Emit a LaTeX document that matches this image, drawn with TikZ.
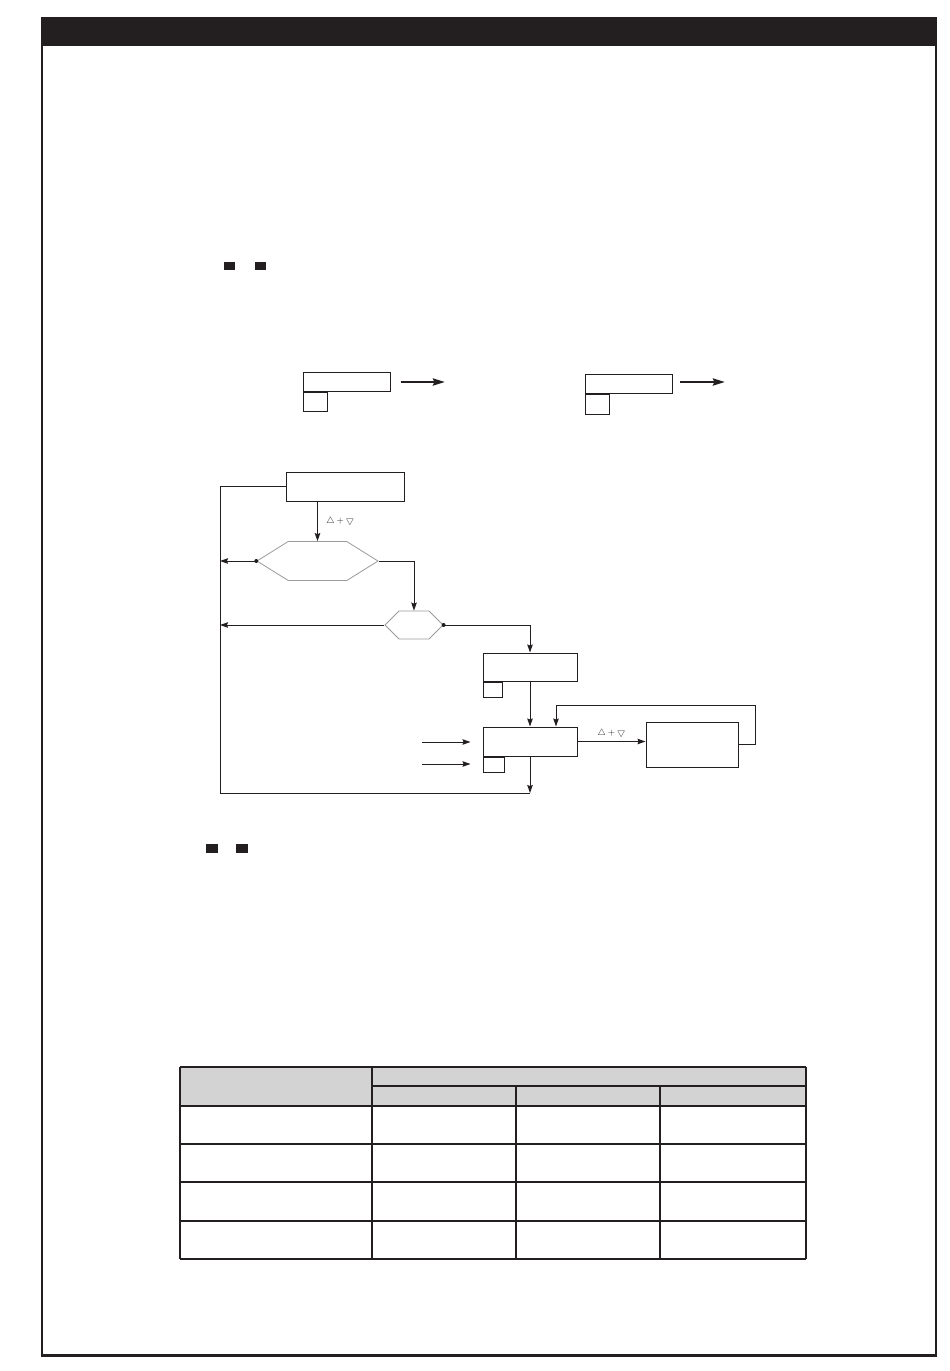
\documentclass[tikz,border=0pt]{standalone}
\usepackage{amsmath}
\usepackage{amssymb}
\usepackage{tikz}
\usetikzlibrary{shapes.symbols,positioning,arrows.meta}
\definecolor{ink}{HTML}{231F20}
\definecolor{headgray}{HTML}{D3D3D3}
\definecolor{hexgray}{HTML}{9A9A9A}

\begin{document}
\begin{tikzpicture}[
		x=1pt,y=-1pt,
		>={Stealth[length=8pt,width=5.5pt,inset=1pt]},
		color=ink,
		line width=1pt,
		box/.style={
			draw=ink,
			line width=1pt,
			fill=white,
			rectangle,
			inner sep=0pt
		},
		tab/.style={box, anchor=north west},
		hex/.style={
			draw=hexgray,
			line width=0.8pt,
			signal,
			signal to=west and east,
			inner sep=0pt
		},
		dot/.style={circle, fill=ink, inner sep=0pt, minimum size=4pt},
		bigarrow/.style={->, line width=2.4pt, >={Stealth[length=12pt,width=7pt,inset=1.5pt]}},
		every node/.style={font=\small}
		]
		\useasboundingbox (0,0) rectangle (950,1371);
		
		% Frame
		\fill[ink] (41,17) rectangle (937,46);
		\draw[line width=2pt] (42,46) -- (42,1356);
		\draw[line width=2pt] (935.5,46) -- (935.5,1356);
		\draw[line width=3pt] (41,1355.5) -- (937,1355.5);
		
		% Marks
		\foreach \x in {224,255} \fill[ink] (\x,262) rectangle ++(11,8);
		\foreach \x in {206,236} \fill[ink] (\x,844) rectangle ++(12,9);
		
		% Registers, top row
		\node[box, minimum width=87pt, minimum height=19pt] (regA) at (346.5,381.5) {};
		\node[tab, minimum width=24pt, minimum height=19pt] (regAtab) at (regA.south west) {};
		\node[box, minimum width=87pt, minimum height=19pt] (regB) at (628.5,383.5) {};
		\node[tab, minimum width=24pt, minimum height=20pt] (regBtab) at (regB.south west) {};
		\coordinate (outA) at (445,382);
		\coordinate (outB) at (725,382);
		\draw[bigarrow, shorten <=10pt] (regA.east |- outA) -- (outA);
		\draw[bigarrow, shorten <=7pt] (regB.east |- outB) -- (outB);
		
		% Flow chart
		\node[box, minimum width=118pt, minimum height=29pt] (start) at (345,486.5) {};
		\node[hex, minimum width=121pt, minimum height=39pt, signal pointer angle=64] (testA) at (317.5,561) {};
		\node[hex, minimum width=58pt, minimum height=28pt, signal pointer angle=90] (testB) at (414,625) {};
		\node[box, minimum width=94pt, minimum height=28pt] (regC) at (530,667) {};
		\node[tab, minimum width=19pt, minimum height=15pt] (regCtab) at (regC.south west) {};
		\node[box, minimum width=94pt, minimum height=29pt] (regD) at (530,741.5) {};
		\node[tab, minimum width=21pt, minimum height=15pt] (regDtab) at (regD.south west) {};
		\node[box, minimum width=92pt, minimum height=45pt] (unitE) at (692,744.5) {};
		
		\coordinate (loopBot) at (220,793);
		\coordinate (loopEnd) at (530,793);
		\coordinate (fbUp) at (755,705);
		\coordinate (fbIn) at (556,705);
		\coordinate (inA) at (422,742);
		\coordinate (inB) at (422,764);
		
		% Return path
		\draw (start.west) -| (loopBot) -- (loopEnd);
		\draw[->] (regD.south) -- (loopEnd);
		
		% Tests
		\draw[->] (testA.north |- start.south) -- node[right, xshift=5pt] {${\bigtriangleup}+{\bigtriangledown}$} (testA.north);
		\draw[->] (testA.west) -- (testA.west -| loopBot);
		\node[dot] (dotA) at (testA.west) {};
		\draw[->] (testA.east) -| (testB.north);
		\draw[->] (testB.west) -- (testB.west -| loopBot);
		\draw[->] (testB.east) -| (regC.north);
		\node[dot] (dotB) at (testB.east) {};
		
		% Registers and unit
		\draw[->] (regC.south) -- (regD.north);
		\draw[->] (regD.east) -- node[above] {${\bigtriangleup}+{\bigtriangledown}$} (regD.east -| unitE.west);
		\draw[->] (unitE.east) -| (fbUp) -- (fbIn) -- (fbIn |- regD.north);
		\draw[->, shorten >=12pt] (inA) -- (inA -| regD.west);
		\draw[->, shorten >=12pt] (inB) -- (inB -| regD.west);
		
		% Table
		\fill[headgray] (180,1067) rectangle (806,1106);
		\foreach \y in {1067,1106,1144,1182,1221,1259} \draw[line width=1.1pt] (180,\y) -- (806,\y);
		\draw[line width=1.1pt] (372,1086) -- (806,1086);
		\foreach \x in {180,372,806} \draw[line width=1.1pt] (\x,1067) -- (\x,1259);
		\foreach \x in {516,660} \draw[line width=1.1pt] (\x,1086) -- (\x,1259);
	\end{tikzpicture}
\end{document}
